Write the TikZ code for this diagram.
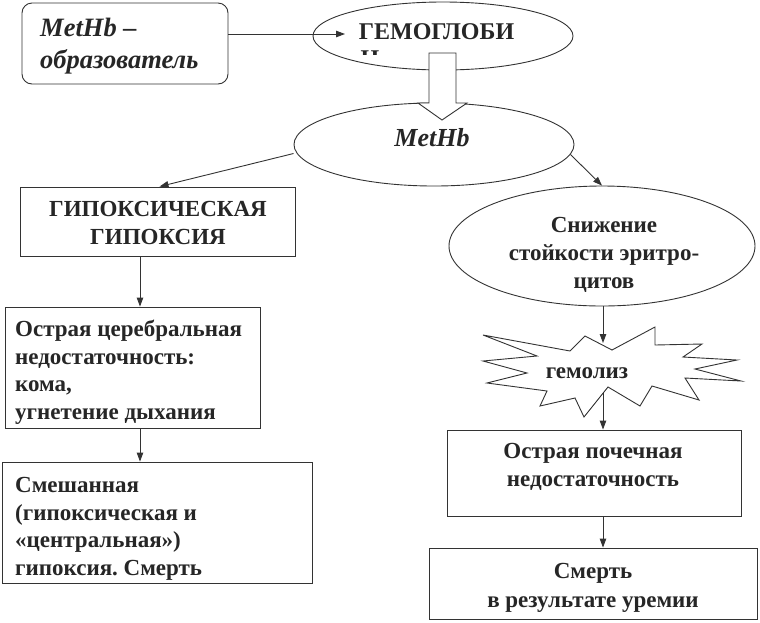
\documentclass[tikz,border=0pt]{standalone}
\usepackage{fontspec}
\setmainfont{Liberation Serif}
\usetikzlibrary{arrows.meta,shapes.geometric}
\frenchspacing
\begin{document}
\begin{tikzpicture}[x=1pt,y=-1pt,
  txt/.style={text=black!85, inner sep=0pt, font=\fontsize{23}{27.5}\selectfont\bfseries},
  ln/.style={draw=black!80, line width=0.9pt},
  arr/.style={ln, -{Triangle[length=9pt,width=6.5pt]}},
  boxr/.style={ln, rectangle, inner sep=0pt},
  ell/.style={ln, ellipse, inner sep=0pt},
]
\useasboundingbox[fill=white] (0,0) rectangle (760,622);

% top-left rounded box
\node[boxr, rounded corners=10pt, minimum width=206pt, minimum height=81pt]
  (mform) at (125,43.5) {};
\node[txt, anchor=west, align=left, font=\fontsize{26.5}{32}\selectfont\bfseries\itshape]
  (mformt) at (40,46.5) {MetHb –\\образователь};

% hemoglobin ellipse
\node[ell, minimum width=260pt, minimum height=68pt] (gem) at (443,36) {};
\node[txt, font=\fontsize{24}{27.5}\selectfont\bfseries] (gtext) at (436.5,31.5) {ГЕМОГЛОБИ};
\begin{scope}
  \clip (350,44) rectangle (390,54.5);
  \node[txt, anchor=base, font=\fontsize{24}{27.5}\selectfont\bfseries] (gn) at (370,66) {Н};
\end{scope}
\coordinate (a1) at (345,34);
\draw[arr] (mform.east |- a1) -- (a1);

% MetHb ellipse
\node[ell, minimum width=280pt, minimum height=83pt] (meth) at (434,144.5) {};
\node[txt, font=\fontsize{26}{27.5}\selectfont\bfseries\itshape] (mtext) at (432,138) {MetHb};

% hollow block arrow
\draw[ln, fill=white] (429,53) -- (456,53) -- (456,103) -- (467,103) -- (442,120)
  -- (418,103) -- (429,103) -- cycle;

% left column
\node[boxr, minimum width=275pt, minimum height=69pt] (hyp) at (157.5,221.5) {};
\node[txt, align=center] (hypt) at (158,223) {ГИПОКСИЧЕСКАЯ\\ГИПОКСИЯ};
\node[boxr, minimum width=255pt, minimum height=121pt] (cereb) at (132.5,367.5) {};
\node[txt, anchor=west, align=left] (cerebt) at (15,372)
  {Острая церебральная\\недостаточность:\\кома,\\угнетение дыхания};
\node[boxr, minimum width=310pt, minimum height=121pt] (mixed) at (157,522.5) {};
\node[txt, anchor=west, align=left] (mixedt) at (15,529)
  {Смешанная\\(гипоксическая и\\«центральная»)\\гипоксия. Смерть};

% right column
\node[ell, minimum width=306pt, minimum height=120pt] (sniz) at (602,246) {};
\node[txt, align=center, font=\fontsize{23}{28}\selectfont\bfseries] (stext) at (604,255)
  {Снижение\\стойкости эритро-\\цитов};

\draw[ln, fill=white] (483,335) -- (570,351) -- (585,336) -- (612,350) -- (655,327)
  -- (655,345) -- (702,344) -- (683,357) -- (737,360) -- (695,369) -- (741,381)
  -- (685,378) -- (699,400) -- (652,386) -- (640,406) -- (608,387) -- (584,417)
  -- (575,398) -- (540,406) -- (547,391) -- (487,383) -- (527,373) -- (483,361)
  -- (537,356) -- cycle;
\node[txt] (hemol) at (587,373) {гемолиз};
\coordinate (b1) at (603,343);
\coordinate (b2) at (603,393);

\node[boxr, minimum width=294pt, minimum height=86pt] (kidney) at (594,473) {};
\node[txt, align=center] (kidneyt) at (593,467) {Острая почечная\\недостаточность};
\node[boxr, minimum width=328pt, minimum height=71pt] (death) at (593,583.5) {};
\node[txt, align=center, font=\fontsize{23}{29}\selectfont\bfseries] (deatht) at (593,588)
  {Смерть\\в результате уремии};

% connectors
\coordinate (c1) at ([xshift=7.5pt]cereb.north);
\draw[arr] ([yshift=-9pt]meth.west) -- ([xshift=2pt]hyp.north);
\draw[arr] ([xshift=-4pt,yshift=-10pt]meth.east) -- (sniz.north);
\draw[arr] (hyp.south -| c1) -- (c1);
\draw[arr] (cereb.south -| c1) -- (mixed.north -| c1);
\draw[arr] (b1 |- sniz.south) -- (b1);
\draw[arr] (b2) -- (b2 |- kidney.north);
\draw[arr] (kidney.south -| b2) -- (death.north -| b2);
\end{tikzpicture}
\end{document}
